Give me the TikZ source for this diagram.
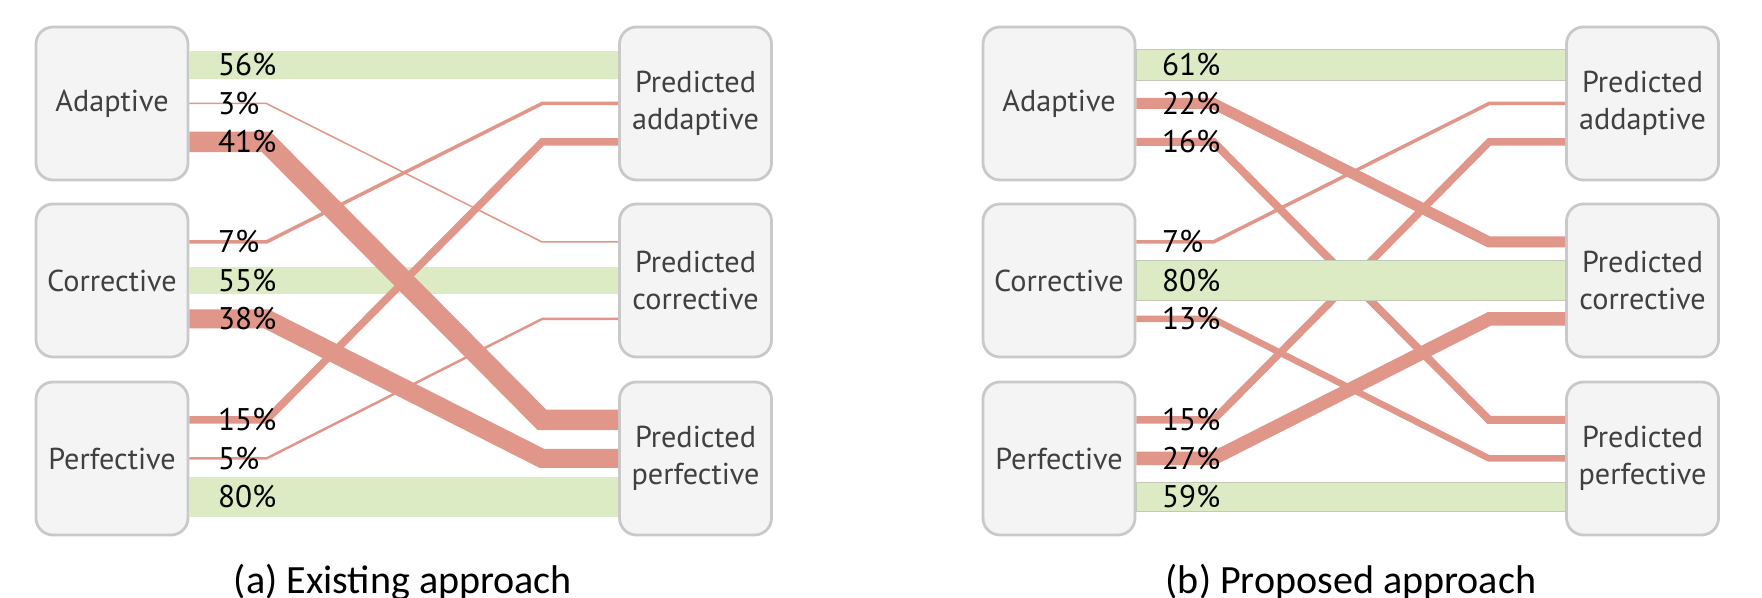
\documentclass[tikz,border=0pt]{standalone}
\usepackage{fontspec}
\setmainfont{PT Sans}
\newfontfamily\capfont{Carlito}
\usetikzlibrary{positioning}
\definecolor{boxfill}{HTML}{F4F4F4}
\definecolor{boxline}{HTML}{C9C9C9}
\definecolor{boxtext}{HTML}{404040}
\definecolor{flowred}{HTML}{E1968A}
\definecolor{hitgreen}{HTML}{DCEBC3}
\definecolor{hitline}{HTML}{C2C9B8}
\tikzset{
  cls/.style={draw=boxline, fill=boxfill, rounded corners=1.7mm, line width=0.8pt,
              minimum width=1.52cm, minimum height=1.53cm, inner sep=0pt,
              align=center, text=boxtext, font=\fontsize{8.6}{10.5}\selectfont},
  pct/.style={anchor=west, inner sep=0pt, text=black, font=\fontsize{8.9}{10}\selectfont},
  flow/.style={draw=flowred, line cap=butt, line join=miter},
  hit/.style={fill=hitgreen},
  hitb/.style={fill=hitgreen, draw=hitline, line width=0.35pt},
  caption/.style={anchor=base, inner sep=0pt, font=\fontsize{11.4}{13}\capfont}
}

\begin{document}
\begin{tikzpicture}[x=1cm,y=1cm]
  \useasboundingbox (0,0) rectangle (17.62,5.98);

  % (a) existing approach
  \node[cls] (exAda)  at (1.12,4.945)  {Adaptive};
  \node[cls] (exCor)  at (1.12,3.175)  {Corrective};
  \node[cls] (exPer)  at (1.12,1.395)  {Perfective};
  \node[cls] (exPAda) at (6.955,4.945) {Predicted\\addaptive};
  \node[cls] (exPCor) at (6.955,3.175) {Predicted\\corrective};
  \node[cls] (exPPer) at (6.955,1.395) {Predicted\\perfective};

  \foreach \s/\y/\t/\p in {exAda/0.385/exPAda/56, exCor/0/exPCor/55, exPer/-0.385/exPPer/80}{
    \pgfmathsetmacro\ytop{\y+\p*0.0025}
    \pgfmathsetmacro\ybot{\y-\p*0.0025}
    \fill[hit] ([yshift=\ytop cm]\s.east) rectangle ([yshift=\ybot cm]\t.west);
  }
  \foreach \s/\ys/\t/\yt/\p in {exAda/0/exPCor/0.385/3, exAda/-0.385/exPPer/0.385/41,
      exCor/0.385/exPAda/0/7, exCor/-0.385/exPPer/0/38,
      exPer/0.385/exPAda/-0.385/15, exPer/0/exPCor/-0.385/5}{
    \pgfmathsetmacro\lw{\p*0.05}
    \draw[flow,line width=\lw mm] ([yshift=\ys cm]\s.east) -- ++(0.77,0)
      -- ([xshift=-7.6mm,yshift=\yt cm]\t.west) -- ([yshift=\yt cm]\t.west);
  }
  \foreach \s/\y/\p in {exAda/0.385/56, exAda/0/3, exAda/-0.385/41,
      exCor/0.385/7, exCor/0/55, exCor/-0.385/38,
      exPer/0.385/15, exPer/0/5, exPer/-0.385/80}
    \node[pct] (ex\p) at ([xshift=2.8mm,yshift=\y cm]\s.east) {\p\%};

  \node[caption] (capA) at (4.03,0.05) {(a) Existing approach};

  % (b) proposed approach
  \begin{scope}[shift={(9.47,0)}]
    \node[cls] (prAda)  at (1.12,4.945)  {Adaptive};
    \node[cls] (prCor)  at (1.12,3.175)  {Corrective};
    \node[cls] (prPer)  at (1.12,1.395)  {Perfective};
    \node[cls] (prPAda) at (6.955,4.945) {Predicted\\addaptive};
    \node[cls] (prPCor) at (6.955,3.175) {Predicted\\corrective};
    \node[cls] (prPPer) at (6.955,1.395) {Predicted\\perfective};

    \foreach \s/\ys/\t/\yt/\p in {prAda/0/prPCor/0.385/22, prAda/-0.385/prPPer/0.385/16,
        prCor/0.385/prPAda/0/7, prCor/-0.385/prPPer/0/13,
        prPer/0.385/prPAda/-0.385/15, prPer/0/prPCor/-0.385/27}{
      \pgfmathsetmacro\lw{\p*0.05}
      \draw[flow,line width=\lw mm] ([yshift=\ys cm]\s.east) -- ++(0.77,0)
        -- ([xshift=-7.6mm,yshift=\yt cm]\t.west) -- ([yshift=\yt cm]\t.west);
    }
    \foreach \s/\y/\t/\p in {prAda/0.385/prPAda/61, prCor/0/prPCor/80, prPer/-0.385/prPPer/59}{
      \pgfmathsetmacro\ytop{\y+\p*0.0025}
      \pgfmathsetmacro\ybot{\y-\p*0.0025}
      \filldraw[hitb] ([yshift=\ytop cm]\s.east) rectangle ([yshift=\ybot cm]\t.west);
    }
    \foreach \s/\y/\p in {prAda/0.385/61, prAda/0/22, prAda/-0.385/16,
        prCor/0.385/7, prCor/0/80, prCor/-0.385/13,
        prPer/0.385/15, prPer/0/27, prPer/-0.385/59}
      \node[pct] (pr\p) at ([xshift=2.5mm,yshift=\y cm]\s.east) {\p\%};

    \node[caption] (capB) at (4.04,0.05) {(b) Proposed approach};
  \end{scope}
\end{tikzpicture}
\end{document}
